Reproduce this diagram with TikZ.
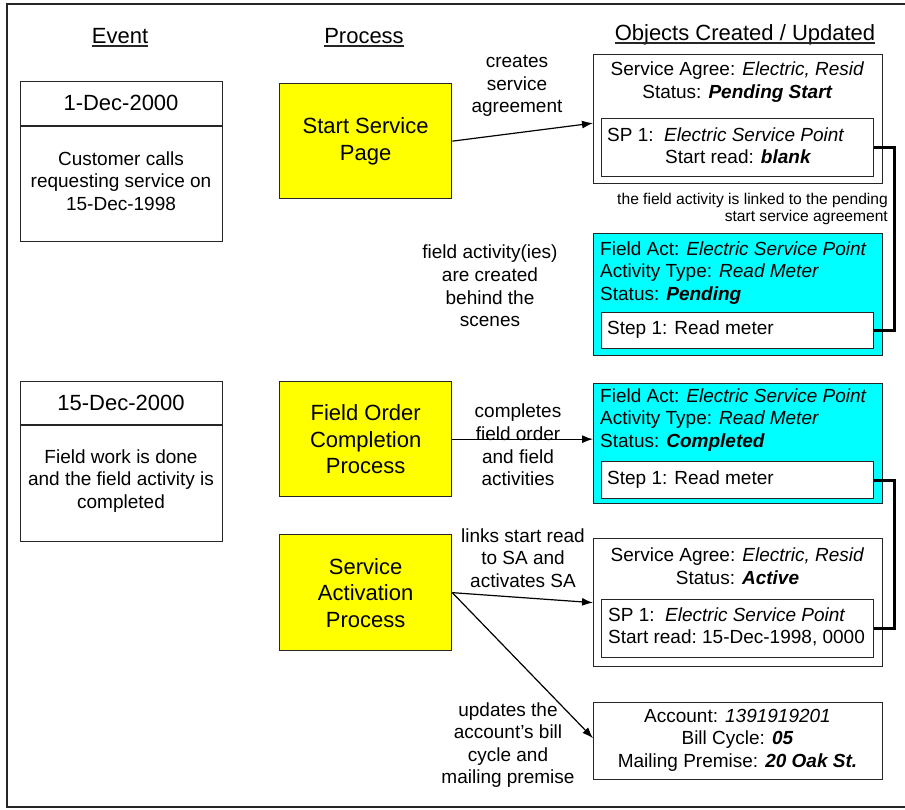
\documentclass[tikz,border=0pt]{standalone}
\usepackage{fontspec}
\setmainfont{Liberation Sans}
\usetikzlibrary{arrows.meta,calc}
\definecolor{procyellow}{RGB}{255,255,0}
\definecolor{facyan}{RGB}{0,255,255}
\begin{document}
\begin{tikzpicture}[x=1pt,y=-1pt,
  box/.style={draw=black!85,line width=1.3pt,inner sep=0pt,anchor=north west},
  proc/.style={box,fill=procyellow,align=center,font=\fontsize{22}{26.5}\selectfont},
  fabox/.style={box,fill=facyan},
  inbox/.style={box,fill=white},
  txt/.style={inner sep=0pt,font=\fontsize{19}{22.6}\selectfont},
  big/.style={inner sep=0pt,font=\fontsize{22}{26}\selectfont},
  small/.style={inner sep=0pt,font=\fontsize{15.6}{17}\selectfont},
  arr/.style={draw=black,line width=1.2pt,-{Latex[length=11pt,width=8pt]}},
  conn/.style={draw=black,line width=2.8pt},
  rule/.style={draw=black!85,line width=1.3pt},
  uline/.style={draw=black!85,line width=1.2pt}]
\useasboundingbox (0,0) rectangle (905,809);
\draw[rule] (912,4) -- (7,4) -- (7,807) -- (912,807);

% headers
\node[big,anchor=base] (hev) at (120,43) {Event};
\node[big,anchor=base] (hpr) at (364,43) {Process};
\node[big,anchor=base] (hob) at (745,40) {Objects Created / Updated};
\foreach \h in {hev,hpr,hob}
  \draw[uline] ([yshift=-3pt]\h.base west) -- ([yshift=-3pt]\h.base east);

% event boxes
\node[box,minimum width=202,minimum height=160] (ev1) at (20,81) {};
\coordinate (d1) at (0,126);
\draw[rule] (ev1.west |- d1) -- (ev1.east |- d1);
\node[big] (ev1d) at (121,103) {1-Dec-2000};
\node[txt,align=center] (ev1b) at (121,181) {Customer calls\\requesting service on\\15-Dec-1998};

\node[box,minimum width=202,minimum height=160] (ev2) at (20,381) {};
\coordinate (d2) at (0,425);
\draw[rule] (ev2.west |- d2) -- (ev2.east |- d2);
\node[big] (ev2d) at (121,403) {15-Dec-2000};
\node[txt,align=center] (ev2b) at (121,481) {Field work is done\\and the field activity is\\completed};

% process boxes
\node[proc,minimum width=172,minimum height=115] (ssp) at (279,83) {Start Service\\Page};
\node[proc,minimum width=172,minimum height=115] (foc) at (279,381) {Field Order\\Completion\\Process};
\node[proc,minimum width=172,minimum height=116] (sap) at (279,534) {Service\\Activation\\Process};

% SA 1
\node[box,minimum width=289,minimum height=129] (sa1) at (593,54) {};
\node[txt,align=center] (sa1t) at (737.5,82) {Service Agree: \textit{Electric, Resid}\\Status: \textbf{\textit{Pending Start}}};
\node[inbox,minimum width=272,minimum height=58] (sp1) at (601,118) {};
\node[txt,anchor=base west] (sp1a) at (607,141) {SP 1:\ \ \textit{Electric Service Point}};
\node[txt,anchor=base west] (sp1b) at (665,163) {Start read: \textbf{\textit{blank}}};
\node[small,align=right,anchor=east] (note) at (888,209) {the field activity is linked to the pending\\start service agreement};

% Field act 1
\node[fabox,minimum width=289,minimum height=122] (fa1) at (593,233) {};
\node[txt,align=left,anchor=west] (fa1t) at (600,273) {Field Act: \textit{Electric Service Point}\\Activity Type: \textit{Read Meter}\\Status: \textbf{\textit{Pending}}};
\node[inbox,minimum width=272,minimum height=36] (st1) at (601,312) {};
\node[txt,anchor=base west] (st1t) at (607,334) {Step 1: Read meter};

% Field act 2
\node[fabox,minimum width=289,minimum height=120] (fa2) at (593,383) {};
\node[txt,align=left,anchor=west] (fa2t) at (600,420) {Field Act: \textit{Electric Service Point}\\Activity Type: \textit{Read Meter}\\Status: \textbf{\textit{Completed}}};
\node[inbox,minimum width=272,minimum height=37] (st2) at (601,461) {};
\node[txt,anchor=base west] (st2t) at (607,484) {Step 1: Read meter};

% SA 2
\node[box,minimum width=289,minimum height=128] (sa2) at (593,538) {};
\node[txt,align=center] (sa2t) at (737.5,566) {Service Agree: \textit{Electric, Resid}\\Status: \textbf{\textit{Active}}};
\node[inbox,minimum width=272,minimum height=58] (sp2) at (601,599) {};
\node[txt,align=left,anchor=west] (sp2t) at (608,627) {SP 1:\ \ \textit{Electric Service Point}\\Start read:\ 15-Dec-1998, 0000};

% Account
\node[box,minimum width=289,minimum height=77] (acct) at (593,702) {};
\node[txt,align=center] (acctt) at (737.5,740) {Account: \textit{1391919201}\\Bill Cycle: \textbf{\textit{05}}\\Mailing Premise: \textbf{\textit{20 Oak St.}}};

% labels
\node[txt,align=center] (l1) at (517,86) {creates\\service\\agreement};
\node[txt,align=center] (l0) at (490,286) {field activity(ies)\\are created\\behind the\\scenes};
\node[txt,align=center] (l2) at (518,445) {completes\\field order\\and field\\activities};
\node[txt,align=center] (l3) at (523,558) {links start read\\to SA and\\activates SA};
\node[txt,align=center] (l4) at (508,745) {updates the\\account's bill\\cycle and\\mailing premise};

% arrows
\draw[arr] (ssp.east) -- ([yshift=-4pt]sa1.west);
\draw[arr] (foc.east) -- (foc.east -| fa2.west);
\draw[arr] (sap.east) -- (sa2.west);
\draw[arr] (sap.east) -- ([yshift=3pt]acct.west);

% links
\draw[conn] (sp1.east) -- ++(20,0) |- (st1.east);
\draw[conn] (st2.east) -- ++(20,0) |- (sp2.east);
\end{tikzpicture}
\end{document}
